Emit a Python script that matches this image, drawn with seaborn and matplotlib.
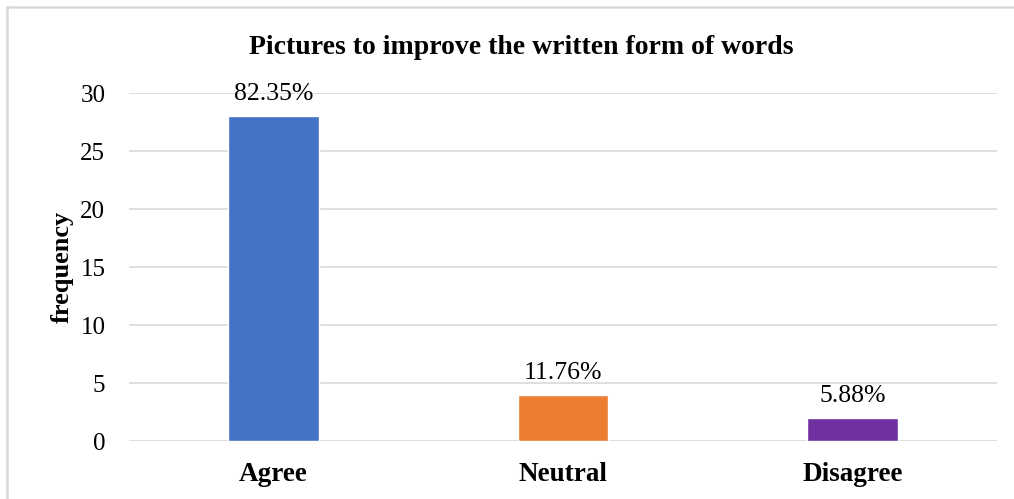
import matplotlib
matplotlib.use("Agg")
import matplotlib.pyplot as plt
import seaborn as sns
import pandas as pd
from matplotlib.lines import Line2D

categories = ["Agree", "Neutral", "Disagree"]
frequency = [28, 4, 2]
percent_labels = ["82.35%", "11.76%", "5.88%"]
colors = ["#4472C4", "#ED7D31", "#7030A0"]
yticks = [0, 5, 10, 15, 20, 25, 30]

sns.set_style("white")
plt.rcParams['font.family'] = ['Liberation Serif', 'DejaVu Serif']
plt.rcParams['text.color'] = 'black'
plt.rcParams['xtick.color'] = 'black'
plt.rcParams['ytick.color'] = 'black'
plt.rcParams['axes.labelcolor'] = 'black'

df = pd.DataFrame({"category": categories, "frequency": frequency})

fig = plt.figure(figsize=(10.14, 4.99), dpi=100)
ax = fig.add_axes([0.1272, 0.1162, 0.9832 - 0.1272, 0.8136 - 0.1162])

sns.barplot(data=df, x="category", y="frequency", hue="category",
            palette=colors, order=categories, hue_order=categories,
            width=0.314, legend=False, ax=ax, saturation=1)

ax.set_ylim(0, 30)
ax.set_xlim(-0.5, 2.5)
ax.set_yticks(yticks)
ax.yaxis.grid(True, color="#D9D9D9", linewidth=1.2)
ax.set_axisbelow(True)
for s in ax.spines.values():
    s.set_visible(False)
ax.tick_params(axis="both", length=0)
ax.tick_params(axis="y", pad=17, labelsize=18)
ax.tick_params(axis="x", pad=15, labelsize=19.5)
for lbl in ax.get_xticklabels():
    lbl.set_fontweight("bold")
ax.set_xlabel("")
ax.set_ylabel("frequency", fontsize=19, fontweight="bold", labelpad=5)

for i, (v, t) in enumerate(zip(frequency, percent_labels)):
    ax.annotate(t, (i, v), xytext=(0, 8), textcoords="offset points",
                ha="center", va="bottom", fontsize=18.5)

fig.text(0.514, 0.905, "Pictures to improve the written form of words",
         ha="center", va="center", fontsize=20, fontweight="bold")

fig.lines.append(Line2D([0.007, 0.007], [0.0, 0.986], transform=fig.transFigure,
                        color="#D9D9D9", linewidth=1.8))
fig.lines.append(Line2D([0.007, 1.0], [0.986, 0.986], transform=fig.transFigure,
                        color="#D9D9D9", linewidth=1.8))

fig.savefig("out.png", dpi=100)
